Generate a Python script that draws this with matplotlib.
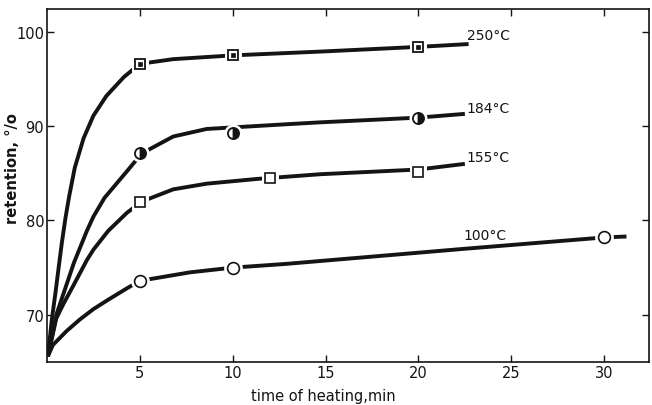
import matplotlib
matplotlib.use("Agg")
import matplotlib.pyplot as plt

# ---- data ----
labels = ["250\u00b0C", "184\u00b0C", "155\u00b0C", "100\u00b0C"]

curve250_x = [0.05, 0.27, 0.45, 0.63, 0.8, 1.0, 1.2, 1.5, 1.97, 2.5, 3.2, 4.14, 5.0, 6.8, 10, 14.7, 20, 22.7]
curve250_y = [65.6, 69.6, 72.2, 75.0, 77.6, 80.3, 82.6, 85.6, 88.7, 91.1, 93.2, 95.2, 96.6, 97.1, 97.5, 97.9, 98.4, 98.7]
pts250_x = [5, 10, 20]
pts250_y = [96.6, 97.5, 98.4]

curve184_x = [0.05, 0.54, 0.9, 1.45, 2.15, 2.5, 3.1, 4.3, 5.1, 6.8, 8.6, 12.9, 14.7, 20, 22.5]
curve184_y = [65.6, 70.2, 72.3, 75.5, 78.9, 80.4, 82.4, 85.2, 87.1, 88.9, 89.7, 90.2, 90.4, 90.9, 91.3]
pts184_x = [5, 10, 20]
pts184_y = [87.1, 89.3, 90.9]

curve155_x = [0.05, 0.5, 0.9, 1.45, 2.15, 2.5, 3.3, 4.3, 5.1, 6.8, 8.6, 11.3, 14.7, 20, 22.5]
curve155_y = [65.6, 69.6, 71.2, 73.2, 75.8, 76.9, 78.9, 80.8, 82.0, 83.3, 83.9, 84.4, 84.9, 85.4, 86.0]
pts155_x = [5, 12, 20]
pts155_y = [82.0, 84.5, 85.1]

curve100_x = [0.05, 0.32, 1.07, 1.77, 2.5, 3.3, 4.3, 5.0, 7.7, 10, 12.9, 14.7, 22.5, 30, 31.2]
curve100_y = [65.6, 66.8, 68.3, 69.5, 70.6, 71.6, 72.8, 73.6, 74.5, 75.0, 75.4, 75.7, 77.0, 78.2, 78.3]
pts100_x = [5, 10, 30]
pts100_y = [73.6, 75.0, 78.2]

label_x = [22.6, 22.6, 22.6, 22.4]
label_y = [99.7, 91.9, 86.7, 78.5]

xticks = [5, 10, 15, 20, 25, 30]
yticks = [70, 80, 90, 100]

# ---- figure ----
fig = plt.figure(figsize=(6.52, 4.06), dpi=100)
ax = fig.add_axes([0.072, 0.106, 0.923, 0.869])
ink = "#141414"

curves = [(curve250_x, curve250_y), (curve184_x, curve184_y),
          (curve155_x, curve155_y), (curve100_x, curve100_y)]
for cx, cy in curves:
    ax.plot(cx, cy, color=ink, lw=2.8, solid_capstyle="butt",
            solid_joinstyle="round", zorder=2)

def halo(px, py, marker, size):
    ax.plot(px, py, ls="none", marker=marker, ms=size, mfc="white",
            mec="white", mew=5, zorder=3)

# 250: square with small dark mark inside
halo(pts250_x, pts250_y, "s", 7)
ax.plot(pts250_x, pts250_y, ls="none", marker="s", ms=7, mfc="white",
        mec=ink, mew=1.3, zorder=4)
ax.plot(pts250_x, pts250_y, ls="none", marker="s", ms=3, mfc=ink,
        mec=ink, mew=0.5, zorder=5)
# 184: half-filled circle
halo(pts184_x, pts184_y, "o", 8)
ax.plot(pts184_x, pts184_y, ls="none", marker="o", ms=8, fillstyle="right",
        mfc=ink, mfcalt="white", mec=ink, mew=1.3, zorder=4)
# 155: open square
halo(pts155_x, pts155_y, "s", 7)
ax.plot(pts155_x, pts155_y, ls="none", marker="s", ms=7, mfc="white",
        mec=ink, mew=1.2, zorder=4)
# 100: open circle
halo(pts100_x, pts100_y, "o", 8.5)
ax.plot(pts100_x, pts100_y, ls="none", marker="o", ms=8.5, mfc="white",
        mec=ink, mew=1.2, zorder=4)

for t, lx, ly in zip(labels, label_x, label_y):
    ax.text(lx, ly, t, fontsize=10, color=ink, ha="left", va="center")

ax.set_xlim(0, 32.4)
ax.set_ylim(65, 102.4)
ax.set_xticks(xticks)
ax.set_yticks(yticks)
ax.tick_params(direction="in", top=True, right=True, length=5, width=1.0,
               labelsize=10.5, colors=ink, pad=2)
for s in ax.spines.values():
    s.set_linewidth(1.2)
    s.set_color(ink)

ax.set_xlabel("time of heating,min", fontsize=10.5, color=ink)
ax.xaxis.set_label_coords(0.46, -0.075)
ax.set_ylabel("retention, \u00b0/o", fontsize=10.5, fontweight="bold", color=ink)
ax.yaxis.set_label_coords(-0.044, 0.55)

fig.savefig("out.png", dpi=100, facecolor="white")
